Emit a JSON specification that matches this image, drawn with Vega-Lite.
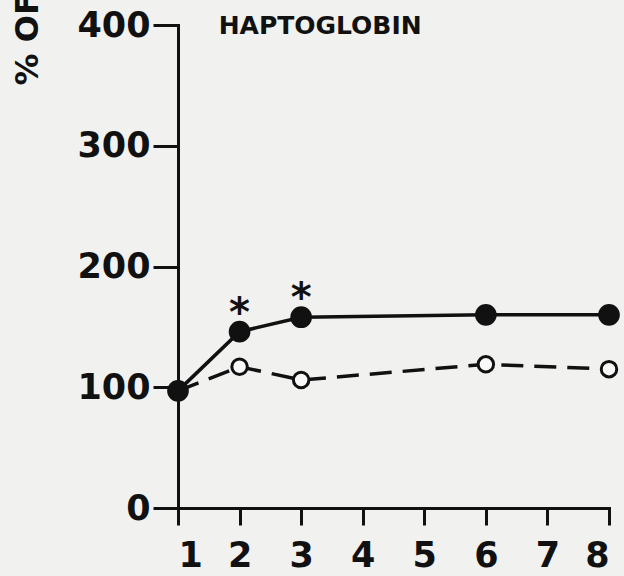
{
  "$schema": "https://vega.github.io/schema/vega-lite/v6.json",
  "width": 431,
  "height": 483,
  "autosize": {"type": "none"},
  "padding": {"left": 178, "top": 25, "right": 15, "bottom": 68},
  "background": "#f1f1f0",
  "config": {
    "view": {"stroke": null},
    "axis": {
      "grid": false,
      "domainColor": "#111111",
      "domainWidth": 3,
      "tickColor": "#111111",
      "tickWidth": 3,
      "labelFont": "DejaVu Sans",
      "labelFontSize": 35,
      "labelFontWeight": "bold",
      "labelColor": "#111111",
      "titleFont": "DejaVu Sans",
      "titleColor": "#111111",
      "domainCap": "square"
    }
  },
  "layer": [
    {
      "data": {
        "values": [
          {"day": 1, "value": 97, "group": "treated", "sig": false},
          {"day": 2, "value": 146, "group": "treated", "sig": true},
          {"day": 3, "value": 158, "group": "treated", "sig": true},
          {"day": 6, "value": 160, "group": "treated", "sig": false},
          {"day": 8, "value": 160, "group": "treated", "sig": false},
          {"day": 1, "value": 97, "group": "control", "sig": false},
          {"day": 2, "value": 117, "group": "control", "sig": false},
          {"day": 3, "value": 106, "group": "control", "sig": false},
          {"day": 6, "value": 119, "group": "control", "sig": false},
          {"day": 8, "value": 115, "group": "control", "sig": false}
        ]
      },
      "encoding": {
        "x": {
          "field": "day",
          "type": "quantitative",
          "scale": {"domain": [1, 8], "zero": false, "nice": false},
          "axis": {
            "values": [1, 2, 3, 4, 5, 6, 7, 8],
            "format": "d",
            "tickSize": 17,
            "labelPadding": 13,
            "title": null
          }
        },
        "y": {
          "field": "value",
          "type": "quantitative",
          "scale": {"domain": [0, 400], "nice": false},
          "axis": {
            "values": [0, 100, 200, 300, 400],
            "format": "d",
            "tickSize": 25,
            "labelPadding": 3,
            "title": "% OF CONTROL",
            "titleAngle": 270,
            "titleAlign": "left",
            "titleBaseline": "middle",
            "titleX": -151,
            "titleY": 60,
            "titleFontSize": 32,
            "titleFontWeight": "bold"
          }
        }
      },
      "layer": [
        {
          "transform": [{"filter": "datum.group === 'control'"}],
          "mark": {"type": "line", "color": "#111111", "strokeWidth": 3.5, "strokeDash": [22, 11]}
        },
        {
          "transform": [{"filter": "datum.group === 'treated'"}],
          "mark": {"type": "line", "color": "#111111", "strokeWidth": 3.5}
        },
        {
          "transform": [{"filter": "datum.group === 'control' && datum.day > 1"}],
          "mark": {"type": "point", "shape": "circle", "filled": true, "fill": "#f8f8f8", "stroke": "#111111", "strokeWidth": 3, "size": 240, "opacity": 1}
        },
        {
          "transform": [{"filter": "datum.group === 'treated'"}],
          "mark": {"type": "point", "shape": "circle", "filled": true, "color": "#111111", "size": 470, "opacity": 1}
        },
        {
          "transform": [{"filter": "datum.sig"}],
          "mark": {"type": "text", "text": "*", "font": "DejaVu Sans", "fontWeight": "bold", "fontSize": 40, "dy": -18, "color": "#111111"}
        }
      ]
    },
    {
      "data": {"values": [{"label": "HAPTOGLOBIN", "day": 1.66, "value": 400}]},
      "mark": {"type": "text", "align": "left", "baseline": "middle", "dy": 1, "font": "DejaVu Sans", "fontSize": 25, "fontWeight": "bold", "color": "#111111"},
      "encoding": {
        "x": {"field": "day", "type": "quantitative"},
        "y": {"field": "value", "type": "quantitative"},
        "text": {"field": "label", "type": "nominal"}
      }
    }
  ]
}
